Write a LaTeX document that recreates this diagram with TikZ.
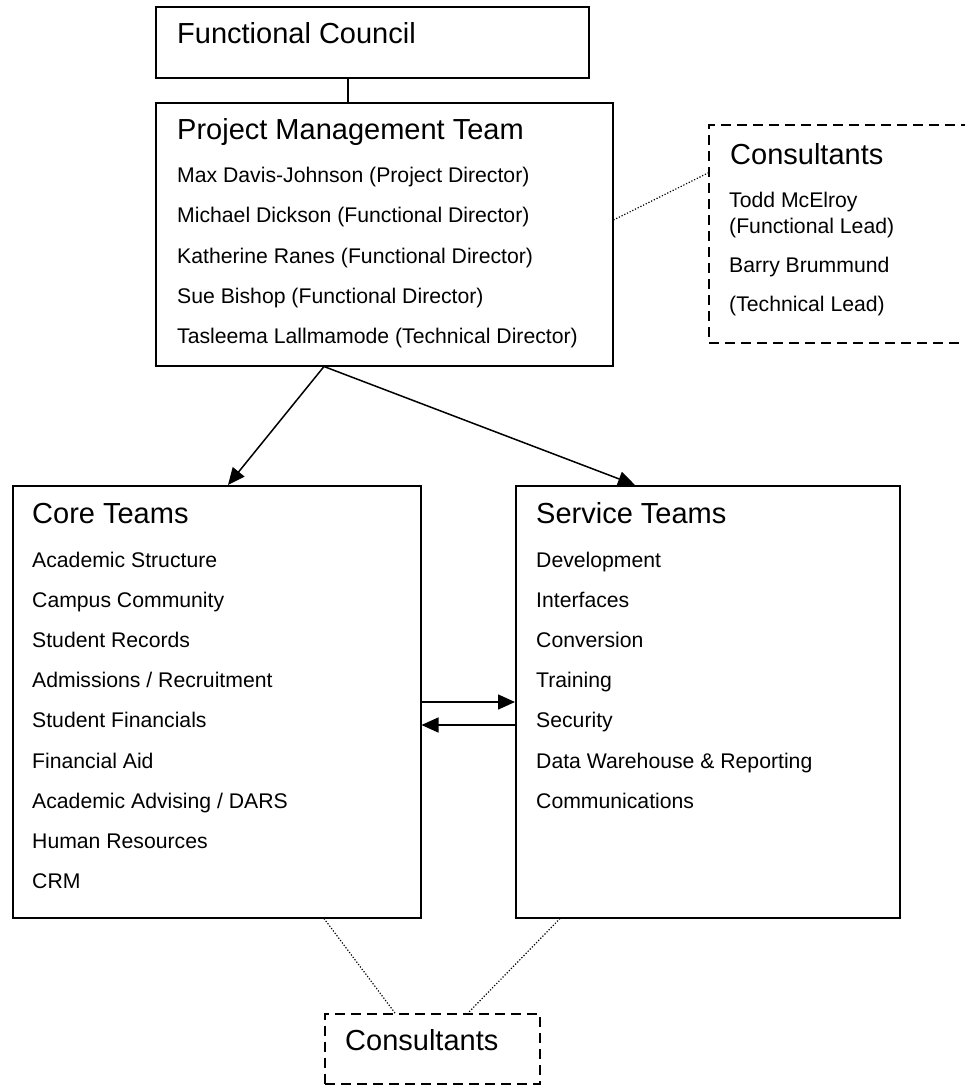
\documentclass[tikz,border=0pt]{standalone}
\usepackage{fontspec}
\setmainfont{Liberation Sans}
\usetikzlibrary{arrows.meta}

\begin{document}
\begin{tikzpicture}[x=1pt,y=-1pt,
		box/.style={draw,line width=1.5pt,anchor=north west,inner sep=0pt},
		dashbox/.style={box,dash pattern=on 10pt off 6pt},
		head/.style={anchor=base west,inner sep=0pt,font=\fontsize{29}{35}\selectfont},
		item/.style={anchor=base west,inner sep=0pt,font=\fontsize{21.2}{25}\selectfont},
		link/.style={line width=1.5pt},
		tip/.style={link,-{Triangle[length=17pt,width=15pt]}},
		dots/.style={line width=1.2pt,dash pattern=on 1.2pt off 1.8pt}]
		\useasboundingbox (0,0) rectangle (965,1085);
		\clip (0,0) rectangle (965,1085);

		% boxes
		\node[box,minimum width=433,minimum height=71] (fc) at (155,6) {};
		\node[box,minimum width=457,minimum height=263] (pmt) at (155,102) {};
		\node[dashbox,minimum width=270,minimum height=218] (cons) at (708,124) {};
		\node[box,minimum width=408,minimum height=432] (core) at (12,485) {};
		\node[box,minimum width=384,minimum height=432] (serv) at (515,485) {};
		\node[dashbox,minimum width=215,minimum height=70] (cons2) at (324,1013) {};

		% texts
		\node[head] (fct) at (177,43) {Functional Council};

		\node[head] (pmtt) at (177,139) {Project Management Team};
		\node[item] (pmt1) at (177,182) {Max Davis-Johnson (Project Director)};
		\node[item] (pmt2) at (177,222) {Michael Dickson (Functional Director)};
		\node[item] (pmt3) at (177,263) {Katherine Ranes (Functional Director)};
		\node[item] (pmt4) at (177,303) {Sue Bishop (Functional Director)};
		\node[item] (pmt5) at (177,343) {Tasleema Lallmamode (Technical Director)};

		\node[head] (const) at (730,164) {Consultants};
		\node[item] (cons1) at (729,207) {Todd McElroy};
		\node[item] (cons2a) at (729,233) {(Functional Lead)};
		\node[item] (cons3) at (729,272) {Barry Brummund};
		\node[item] (cons4) at (729,311) {(Technical Lead)};

		\node[head] (coret) at (32,523) {Core Teams};
		\node[item] (core1) at (32,567) {Academic Structure};
		\node[item] (core2) at (32,607) {Campus Community};
		\node[item] (core3) at (32,647) {Student Records};
		\node[item] (core4) at (32,687) {Admissions / Recruitment};
		\node[item] (core5) at (32,727) {Student Financials};
		\node[item] (core6) at (32,768) {Financial Aid};
		\node[item] (core7) at (32,808) {Academic Advising / DARS};
		\node[item] (core8) at (32,848) {Human Resources};
		\node[item] (core9) at (32,888) {CRM};

		\node[head] (servt) at (536,523) {Service Teams};
		\node[item] (serv1) at (536,567) {Development};
		\node[item] (serv2) at (536,607) {Interfaces};
		\node[item] (serv3) at (536,647) {Conversion};
		\node[item] (serv4) at (536,687) {Training};
		\node[item] (serv5) at (536,727) {Security};
		\node[item] (serv6) at (536,768) {Data Warehouse \& Reporting};
		\node[item] (serv7) at (536,808) {Communications};

		\node[head] (cons2t) at (345,1050) {Consultants};

		% connectors
		\draw[link] ([xshift=193pt]fc.south west) -- ([xshift=193pt]pmt.north west);
		\draw[tip] ([xshift=169pt]pmt.south west) -- ([xshift=216pt]core.north west);
		\draw[tip] ([xshift=169pt]pmt.south west) -- ([xshift=120pt]serv.north west);
		\draw[tip] ([yshift=-217pt]core.north east) -- ([yshift=-217pt]serv.north west);
		\draw[tip] ([yshift=-240pt]serv.north west) -- ([yshift=-240pt]core.north east);

		\draw[dots] ([yshift=-118pt]pmt.north east) -- ([yshift=-49pt]cons.north west);
		\draw[dots] ([xshift=312pt]core.south west) -- ([xshift=71pt]cons2.north west);
		\draw[dots] ([xshift=45pt]serv.south west) -- ([xshift=144pt]cons2.north west);
	\end{tikzpicture}
\end{document}
